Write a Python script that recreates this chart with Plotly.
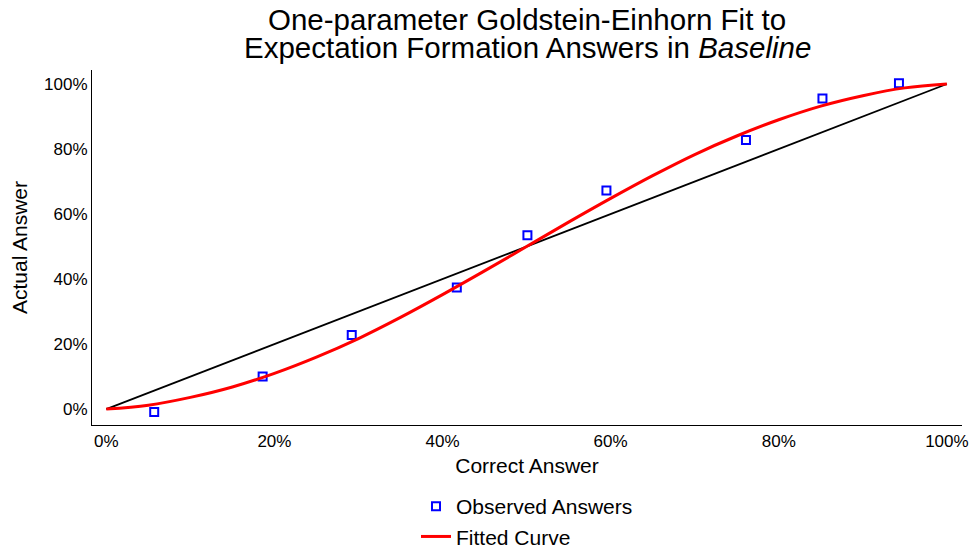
import plotly.graph_objects as go

# Observed answers: correct answer vs actual (mean) answer
observed_correct = [0.057, 0.186, 0.292, 0.417, 0.501, 0.595, 0.761, 0.852, 0.943]
observed_actual = [-0.009, 0.100, 0.228, 0.374, 0.535, 0.672, 0.828, 0.955, 1.002]

# Fitted Goldstein-Einhorn curve, sampled every 5 points
fit_x = [0.00, 0.05, 0.10, 0.15, 0.20, 0.25, 0.30, 0.35, 0.40, 0.45, 0.50,
         0.55, 0.60, 0.65, 0.70, 0.75, 0.80, 0.85, 0.90, 0.95, 1.00]
fit_y = [0.000, 0.012, 0.036, 0.068, 0.110, 0.160, 0.217, 0.282, 0.352, 0.425, 0.500,
         0.575, 0.648, 0.718, 0.783, 0.840, 0.890, 0.932, 0.964, 0.988, 1.000]

# 45-degree reference line
diag_x = [0.0, 1.0]
diag_y = [0.0, 1.0]

tick_vals = [0, 0.2, 0.4, 0.6, 0.8, 1.0]
tick_text = ["0%", "20%", "40%", "60%", "80%", "100%"]

title_lines = [
    "One-parameter Goldstein-Einhorn Fit to",
    "Expectation Formation Answers in <i>Baseline</i>",
]

FONT = "Liberation Sans, Arial, Helvetica, sans-serif"
W, H = 972, 548
M_L, M_R, M_T, M_B = 92, 10, 70, 123
PLOT_H = H - M_T - M_B

fig = go.Figure()
fig.add_trace(go.Scatter(
    x=diag_x, y=diag_y, mode="lines",
    line=dict(color="black", width=1.8),
    showlegend=False, hoverinfo="skip",
))
fig.add_trace(go.Scatter(
    x=observed_correct, y=observed_actual, mode="markers",
    name="Observed Answers",
    marker=dict(symbol="square-open", size=8, color="blue", line=dict(width=2, color="blue")),
))
fig.add_trace(go.Scatter(
    x=fit_x, y=fit_y, mode="lines", line_shape="spline",
    name="Fitted Curve",
    line=dict(color="red", width=3),
))

# Two-line title set with tight leading
for line, ypix in zip(title_lines, [20, 47]):
    fig.add_annotation(
        text=line, xref="paper", x=0.5, xanchor="center",
        yref="paper", y=(H - M_B - ypix) / PLOT_H, yanchor="middle",
        showarrow=False, font=dict(size=29.5, family=FONT, color="black"),
    )

fig.update_layout(
    width=W, height=H,
    paper_bgcolor="white", plot_bgcolor="white",
    font=dict(family=FONT, color="black", size=17),
    margin=dict(l=M_L, r=M_R, t=M_T, b=M_B, autoexpand=False),
    legend=dict(
        orientation="v", x=0.5, xanchor="center", xref="paper",
        y=(H - 486) / H, yref="container", yanchor="top",
        font=dict(size=21, family=FONT),
        itemwidth=30,
    ),
)

fig.update_xaxes(
    range=[-0.017, 1.018], tickvals=tick_vals, ticktext=tick_text,
    showgrid=False, zeroline=False, showline=True, linecolor="black", linewidth=1.2,
    ticks="", title=dict(text="Correct Answer", font=dict(size=21), standoff=8),
    tickfont=dict(size=17),
)
fig.update_yaxes(
    range=[-0.049, 1.043], tickvals=tick_vals, ticktext=tick_text,
    showgrid=False, zeroline=False, showline=True, linecolor="black", linewidth=1.2,
    ticks="", title=dict(text="Actual Answer", font=dict(size=21), standoff=10),
    tickfont=dict(size=17),
)

fig.write_html("out.html")
